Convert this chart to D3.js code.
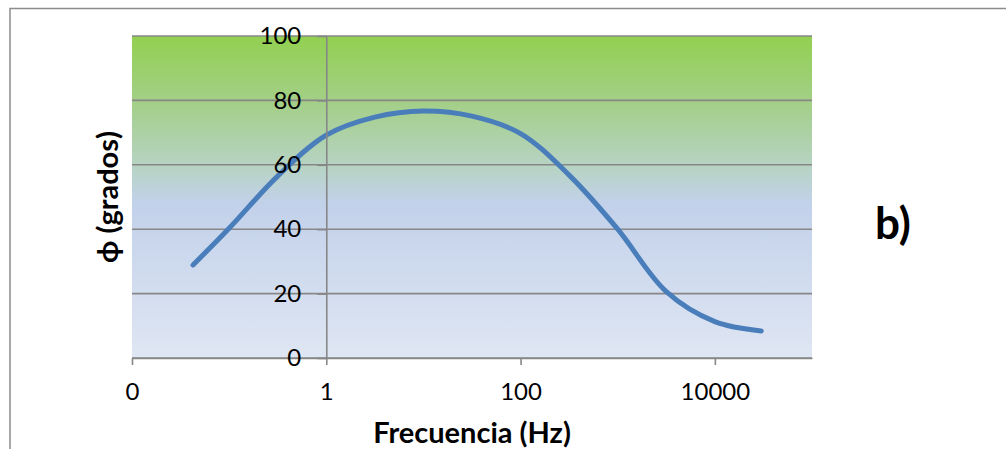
<!DOCTYPE html>
<html>
<head>
<meta charset="utf-8">
<script src="https://cdn.jsdelivr.net/npm/d3@7"></script>
<style>
  html, body { margin: 0; padding: 0; background: #fff; }
  svg { display: block; }
  text { font-family: Lato, "Open Sans", sans-serif; fill: #000; }
</style>
</head>
<body>
<svg id="chart" width="1006" height="449"></svg>
<script>
// Phase response: frequency (Hz) and phase angle (degrees)
const frequencies = [0.0425, 0.1, 0.316, 1, 3.16, 10, 31.6, 100, 316, 1000, 3162, 10000, 30000];
const phaseDegrees = [28.9, 40.3, 56.5, 69.2, 74.8, 76.7, 75.1, 69.7, 56.8, 40.0, 20.6, 11.3, 8.4];

const xTickValues = [0.01, 1, 100, 10000];
const xTickLabels = ["0", "1", "100", "10000"];
const yTickValues = [0, 20, 40, 60, 80, 100];

const xTitle = "Frecuencia (Hz)";
const yTitle = "\u03D5 (grados)";
const panelLabel = "b)";

const svg = d3.select("#chart");
const W = 1006, H = 449;
const plot = { left: 132, right: 812, top: 36, bottom: 358 };

const x = d3.scaleLog().domain([0.01, 100000]).range([plot.left, plot.right]);
const y = d3.scaleLinear().domain([0, 100]).range([plot.bottom, plot.top]);

// Outer chart frame (runs past the right and bottom edges)
svg.append("rect")
  .attr("x", 10).attr("y", 8.5)
  .attr("width", W + 10).attr("height", H + 10)
  .attr("fill", "none").attr("stroke", "#8c8c8c").attr("stroke-width", 1.5);

// Plot area gradient: green at the top fading to pale blue
const defs = svg.append("defs");
const grad = defs.append("linearGradient")
  .attr("id", "plotFill").attr("x1", 0).attr("y1", 0).attr("x2", 0).attr("y2", 1);
[
  [0, "#92d050"],
  [0.2, "#a3cf86"],
  [0.42, "#b8d3c8"],
  [0.52, "#c2d1ea"],
  [1, "#dfe6f3"]
].forEach(([o, c]) => grad.append("stop").attr("offset", o).attr("stop-color", c));

svg.append("rect")
  .attr("x", plot.left).attr("y", plot.top)
  .attr("width", plot.right - plot.left).attr("height", plot.bottom - plot.top)
  .attr("fill", "url(#plotFill)");

// Horizontal gridlines
svg.append("g")
  .selectAll("line")
  .data(yTickValues)
  .join("line")
  .attr("x1", plot.left).attr("x2", plot.right)
  .attr("y1", d => y(d)).attr("y2", d => y(d))
  .attr("stroke", "#878787").attr("stroke-width", 1.6);

// Phase curve
const line = d3.line()
  .x((d, i) => x(frequencies[i]))
  .y(d => y(d))
  .curve(d3.curveCatmullRom.alpha(0.5));

svg.append("path")
  .datum(phaseDegrees)
  .attr("d", line)
  .attr("fill", "none")
  .attr("stroke", "#4a7ebb")
  .attr("stroke-width", 5)
  .attr("stroke-linecap", "round")
  .attr("stroke-linejoin", "round");

// X axis along the bottom
const xAxis = d3.axisBottom(x)
  .tickValues(xTickValues)
  .tickFormat((d, i) => xTickLabels[i])
  .tickSize(7)
  .tickSizeOuter(0)
  .tickPadding(18);
const gx = svg.append("g")
  .attr("transform", `translate(0,${plot.bottom})`)
  .call(xAxis);
gx.select(".domain").attr("stroke", "#878787").attr("stroke-width", 1.6);
gx.selectAll(".tick line").attr("stroke", "#878787").attr("stroke-width", 1.6);
gx.selectAll(".tick text").style("font-size", "24px").style("font-family", "Lato, sans-serif").attr("fill", "#000");

// Y axis crossing at 1 Hz
const yAxis = d3.axisLeft(y)
  .tickValues(yTickValues)
  .tickSize(9)
  .tickSizeOuter(0)
  .tickPadding(16);
const gy = svg.append("g")
  .attr("transform", `translate(${x(1)},0)`)
  .call(yAxis);
gy.select(".domain").attr("stroke", "#878787").attr("stroke-width", 1.6);
gy.selectAll(".tick line").attr("stroke", "#878787").attr("stroke-width", 1.6);
gy.selectAll(".tick text").style("font-size", "24px").style("font-family", "Lato, sans-serif").attr("fill", "#000");

// Axis titles
svg.append("text")
  .attr("x", 472).attr("y", 443)
  .attr("text-anchor", "middle")
  .style("font-size", "29px").style("font-weight", "bold")
  .text(xTitle);

svg.append("text")
  .attr("transform", "translate(118,197) rotate(-90)")
  .attr("text-anchor", "middle")
  .style("font-size", "29px").style("font-weight", "bold")
  .text(yTitle);

// Panel label
svg.append("text")
  .attr("x", 875).attr("y", 239)
  .style("font-size", "44px").style("font-weight", "bold")
  .text(panelLabel);
</script>
</body>
</html>
